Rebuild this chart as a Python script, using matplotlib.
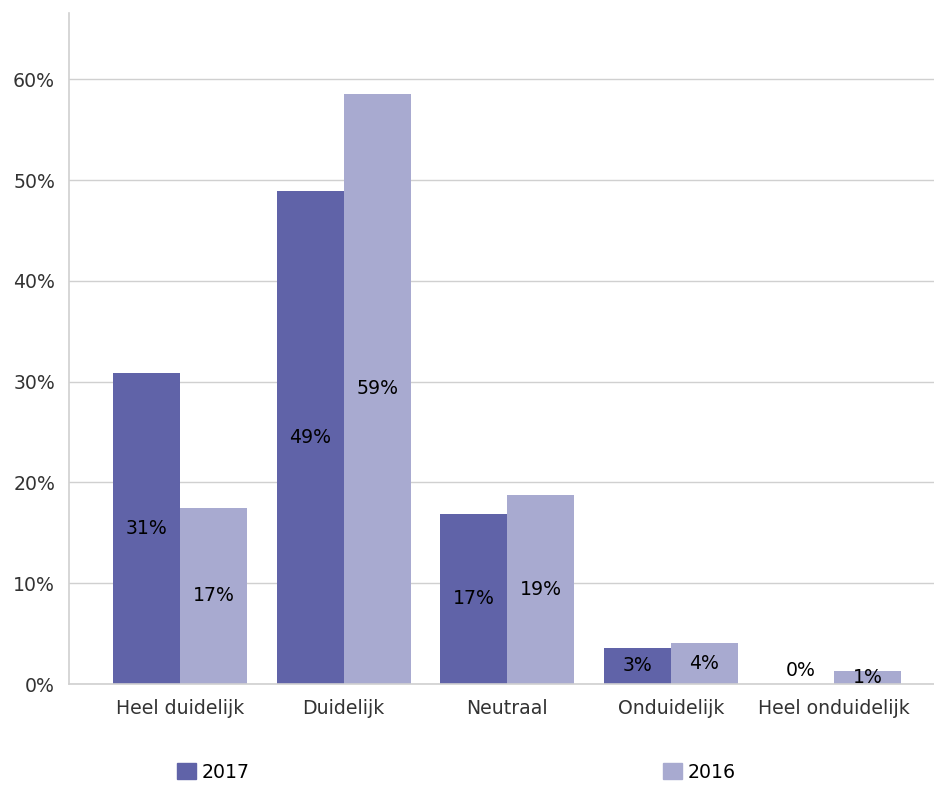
import numpy as np
import matplotlib.pyplot as plt
from matplotlib.patches import Patch

plt.rcParams["font.family"] = ["DejaVu Sans"]

categories = ["Heel duidelijk", "Duidelijk", "Neutraal", "Onduidelijk", "Heel onduidelijk"]
vals_2017 = [0.309, 0.489, 0.169, 0.036, 0.0]
vals_2016 = [0.175, 0.586, 0.188, 0.041, 0.013]
labels_2017 = ["31%", "49%", "17%", "3%", "0%"]
labels_2016 = ["17%", "59%", "19%", "4%", "1%"]
series = ["2017", "2016"]

c17 = "#6063a8"
c16 = "#a8aad0"
grid_c = "#d0d0d0"
fs = 13.6

fig = plt.figure(figsize=(9.34, 7.85), dpi=100)
ax = fig.add_axes([69 / 934, 101 / 785, 1 - 69 / 934, 671 / 785])

x = np.arange(len(categories))
w = 0.41
ax.bar(x - w / 2, vals_2017, w, color=c17, zorder=2)
ax.bar(x + w / 2, vals_2016, w, color=c16, zorder=2)

for xi, v, lab in zip(x - w / 2, vals_2017, labels_2017):
    ax.text(xi, v / 2 if v > 0 else 0.013, lab, ha="center", va="center", fontsize=fs, color="black", zorder=3)
for xi, v, lab in zip(x + w / 2, vals_2016, labels_2016):
    ax.text(xi, v / 2, lab, ha="center", va="center", fontsize=fs, color="black", zorder=3)

ax.set_xlim(-0.68, 4.61)
ax.set_ylim(0, 0.666)
ax.set_yticks(np.arange(0, 0.61, 0.1))
ax.set_yticklabels([f"{int(round(t * 100))}%" for t in np.arange(0, 0.61, 0.1)])
ax.set_xticks(x)
ax.set_xticklabels(categories)
ax.tick_params(length=0, labelsize=fs, labelcolor="#333333")
ax.tick_params(axis="x", pad=11)
ax.tick_params(axis="y", pad=10)
ax.yaxis.grid(True, color=grid_c, linewidth=1, zorder=0)
ax.set_axisbelow(True)
for s in ["top", "right"]:
    ax.spines[s].set_visible(False)
for s in ["left", "bottom"]:
    ax.spines[s].set_color(grid_c)
    ax.spines[s].set_linewidth(1.2)

# legend: two separate entries far apart
for name, col, xpix in zip(series, [c17, c16], [177, 663]):
    fig.legend(handles=[Patch(color=col, label=name)], loc="center left",
               bbox_to_anchor=(xpix / 934, 1 - 772 / 785), frameon=False, fontsize=fs,
               borderpad=0, borderaxespad=0, handlelength=1.0, handleheight=1.0,
               handletextpad=0.3)

fig.savefig("out.png", dpi=100)
